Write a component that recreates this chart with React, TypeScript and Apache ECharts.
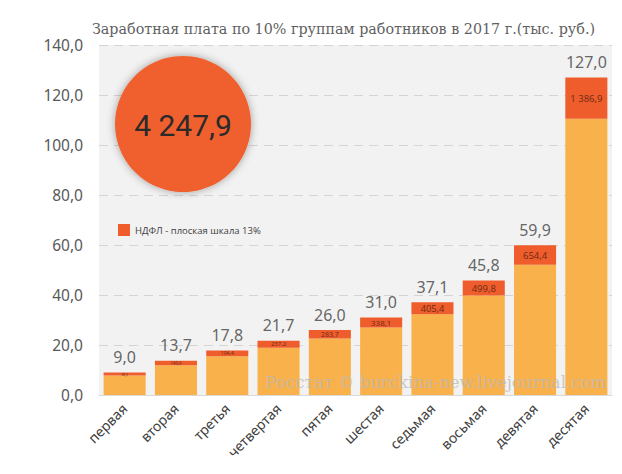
import React, { useEffect, useRef } from 'react';
import * as echarts from 'echarts';

const categories = ['первая', 'вторая', 'третья', 'четвертая', 'пятая', 'шестая', 'седьмая', 'восьмая', 'девятая', 'десятая'];
const totals = [9.0, 13.7, 17.8, 21.7, 26.0, 31.0, 37.1, 45.8, 59.9, 127.0];
const netPart = [7.8, 11.9, 15.5, 18.9, 22.6, 27.0, 32.3, 39.8, 52.1, 110.5];
const taxPart = [1.2, 1.8, 2.3, 2.8, 3.4, 4.0, 4.8, 6.0, 7.8, 16.5];
const taxYear = [98.3, 149.6, 194.4, 237.2, 283.7, 338.1, 405.4, 499.8, 654.4, 1386.9];
const taxTotal = 4247.9;
const yMin = 0;
const yMax = 140;
const yStep = 20;

const titleText = 'Заработная плата по 10% группам работников в 2017 г.(тыс. руб.)';
const legendName = 'НДФЛ - плоская шкала 13%';
const watermark = 'Росстат © burckina-new.livejournal.com';

function fmt(v: number): string {
  const s = v.toFixed(1);
  const [i, d] = s.split('.');
  const ii = i.replace(/\B(?=(\d{3})+(?!\d))/g, ' ');
  return ii + ',' + d;
}

export default function App() {
  const ref = useRef<HTMLDivElement>(null);
  useEffect(() => {
    if (!ref.current) return;
    const chart = echarts.init(ref.current, undefined, { renderer: 'svg' });
    chart.setOption({
      animation: false,
      backgroundColor: '#ffffff',
      title: {
        text: titleText,
        right: 14,
        top: 9,
        textStyle: { fontFamily: 'DejaVu Serif', fontSize: 14.3, fontWeight: 'normal', color: '#5f5f5f' },
      },
      legend: {
        data: [legendName],
        left: 105,
        top: 211,
        itemWidth: 12,
        itemHeight: 12,
        icon: 'rect',
        itemGap: 8,
        textStyle: { fontFamily: 'Open Sans', fontSize: 9.5, color: '#404040' },
      },
      grid: {
        left: 91,
        right: 2,
        top: 37,
        bottom: 71,
        outerBoundsMode: 'none',
        containLabel: false,
        show: true,
        backgroundColor: '#f2f2f2',
        borderWidth: 0,
      },
      xAxis: {
        type: 'category',
        data: categories,
        axisTick: { show: false },
        axisLine: { show: true, lineStyle: { color: '#d9d9d9', width: 1 } },
        axisLabel: {
          rotate: 45,
          margin: 11,
          interval: 0,
          fontFamily: 'Noto Sans',
          fontSize: 14,
          color: '#404040',
        },
      },
      yAxis: {
        type: 'value',
        min: yMin,
        max: yMax,
        interval: yStep,
        axisLine: { show: false },
        axisTick: { show: false },
        splitLine: { show: true, lineStyle: { color: '#d4d4d4', type: [9, 6], width: 1 } },
        axisLabel: {
          margin: 16,
          fontFamily: 'Noto Sans',
          fontSize: 15.5,
          color: '#595959',
          formatter: (v: number) => fmt(v),
        },
      },
      series: [
        {
          name: 'net',
          type: 'bar',
          stack: 'total',
          data: netPart,
          barCategoryGap: '18%',
          itemStyle: { color: '#F9B14B' },
          silent: true,
        },
        {
          name: legendName,
          type: 'bar',
          stack: 'total',
          barCategoryGap: '18%',
          itemStyle: { color: '#EF5D2C' },
          data: taxPart.map((v, i) => ({
            value: v,
            label: {
              show: true,
              position: 'inside',
              fontFamily: 'Open Sans',
              fontSize: Math.min(9.5, 1.5 + v * 1.6),
              color: '#6b2a14',
              formatter: () => fmt(taxYear[i]),
            },
          })),
        },
        {
          name: 'totals',
          type: 'scatter',
          data: totals,
          symbolSize: 1,
          itemStyle: { color: 'rgba(0,0,0,0)' },
          label: {
            show: true,
            position: 'top',
            distance: 7,
            fontFamily: 'Noto Sans',
            fontSize: 16,
            color: '#404040',
            formatter: (p: any) => fmt(p.value),
          },
          z: 5,
        },
      ],
      graphic: [
        {
          type: 'circle',
          shape: { cx: 175, cy: 116, r: 68 },
          style: { fill: '#F0602D', shadowBlur: 8, shadowColor: 'rgba(0,0,0,0.35)' },
          z: 10,
        },
        {
          type: 'text',
          x: 175,
          y: 117,
          style: {
            text: fmt(taxTotal),
            fontFamily: 'Roboto',
            fontSize: 30,
            fill: '#2a2a2a',
            align: 'center',
            verticalAlign: 'middle',
          },
          z: 11,
        },
        {
          type: 'text',
          x: 257,
          y: 374,
          style: {
            text: watermark,
            fontFamily: 'DejaVu Serif',
            fontSize: 16.5,
            fill: 'rgba(185,185,185,0.75)',
            align: 'left',
            verticalAlign: 'middle',
          },
          z: 20,
        },
      ],
    });
    return () => chart.dispose();
  }, []);
  return <div ref={ref} style={{ width: 606, height: 458 }} />;
}
